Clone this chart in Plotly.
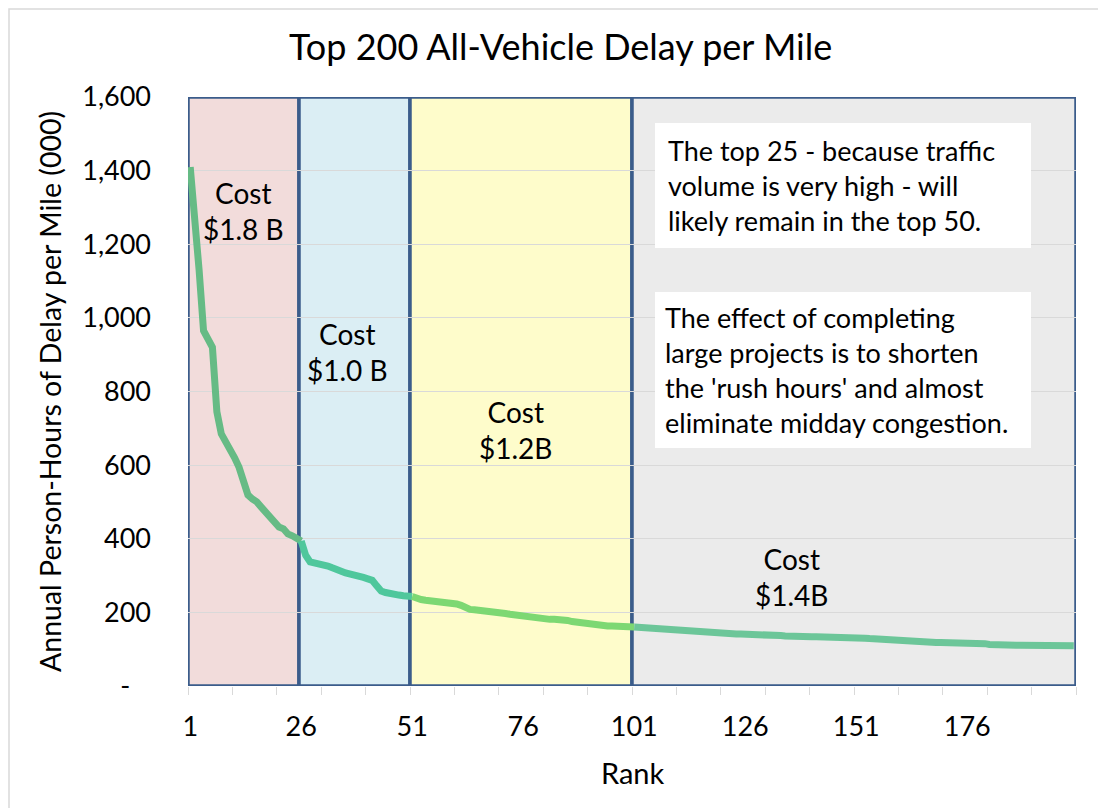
import plotly.graph_objects as go

# ---------------- data ----------------
ranks = list(range(1, 201))
delay = [
    1410, 1290, 1130, 965, 945, 920, 745, 685, 663, 644,
    620, 594, 561, 519, 508, 500, 486, 473, 457, 440,
    432, 427, 413, 408, 402, 394, 355, 337, 335, 334,
    332, 326, 321, 318, 312, 307, 304, 304, 302, 295,
    291, 287, 272, 258, 254, 253, 250, 247, 245, 245,
    243, 237, 235, 233, 232, 231, 229, 227, 226, 225,
    223, 219, 212, 208, 207, 206, 206, 205, 202, 200,
    198, 197, 195, 193, 191, 189, 187, 186, 184, 183,
    181, 181, 181, 181, 180, 178, 175, 173, 172, 170,
    168, 166, 164, 163, 163, 163, 162, 162, 162, 160,
    160, 159, 158, 157, 156, 155, 154, 153, 152, 152,
    151, 150, 149, 148, 147, 146, 145, 144, 144, 143,
    143, 142, 142, 141, 141, 141, 140, 140, 140, 140,
    140, 139, 138, 137, 136, 135, 135, 134, 134, 134,
    134, 134, 134, 134, 134, 134, 134, 134, 133, 133,
    132, 131, 130, 129, 128, 127, 127, 126, 125, 124,
    123, 122, 121, 120, 119, 119, 118, 118, 118, 118,
    118, 118, 118, 118, 118, 118, 118, 117, 116, 115,
    113, 112, 111, 111, 111, 111, 111, 111, 111, 111,
    111, 110, 110, 110, 110, 110, 109, 109, 109, 109,
]

# cost groups: (first rank, last rank, fill, line colour, label)
group_first = [1, 26, 51, 101]
group_last = [25, 50, 100, 200]
group_fill = ["#f2dcdb", "#dbeef4", "#fefccb", "#ebebeb"]
group_line = ["#66bb85", "#4fc79c", "#7dd873", "#6cc699"]
group_label = ["Cost<br>$1.8 B", "Cost<br>$1.0 B", "Cost<br>$1.2B", "Cost<br>$1.4B"]
label_pos_x = [243, 347, 515, 791]      # screen-pixel centres of the cost labels
label_pos_y = [211, 352, 430, 577]

x_tick_vals = [1, 26, 51, 76, 101, 126, 151, 176]
y_tick_vals = [0, 200, 400, 600, 800, 1000, 1200, 1400, 1600]
y_tick_text = ["-\u00a0\u00a0\u00a0", "200", "400", "600", "800", "1,000", "1,200", "1,400", "1,600"]

note1 = "The top 25 - because traffic<br>volume is very high - will<br>likely remain in the top 50."
note2 = ("The effect of completing<br>large projects is to shorten<br>"
         "the 'rush hours' and almost<br>eliminate midday congestion.")

# ---------------- layout geometry ----------------
OFF = 8                       # page body margin
W, H = 1106 - OFF, 808 - OFF
SL, SR, ST, SB = 188, 1076, 97, 686   # plot area in screen pixels
L, R, T, B = SL - OFF, SR - OFF, ST - OFF, SB - OFF
PW, PH = R - L, B - T


def px(xs):
    return (xs - SL) / PW


def py(ys):
    return (SB - ys) / PH


FONT = "Lato, 'Open Sans', sans-serif"
BORDER = "#3b5c8b"

fig = go.Figure()

# line segments, coloured per cost group
for i in range(4):
    a = group_first[i] - 1
    b = min(group_last[i] + 1, 200)
    fig.add_trace(go.Scatter(
        x=ranks[a:b], y=delay[a:b], mode="lines",
        line=dict(color=group_line[i], width=7, shape="linear"),
        showlegend=False, hoverinfo="x+y",
    ))

shapes = []
for i in range(4):
    shapes.append(dict(
        type="rect", xref="x", yref="y",
        x0=group_first[i] - 0.5, x1=group_last[i] + 0.5, y0=0, y1=1600,
        fillcolor=group_fill[i], line=dict(color=BORDER, width=3.5), layer="below",
    ))

# white note boxes
shapes.append(dict(type="rect", xref="paper", yref="paper",
                   x0=px(655), x1=px(1031), y0=py(248), y1=py(123),
                   fillcolor="white", line=dict(width=0), layer="above"))
shapes.append(dict(type="rect", xref="paper", yref="paper",
                   x0=px(655), x1=px(1031), y0=py(448), y1=py(292),
                   fillcolor="white", line=dict(width=0), layer="above"))
# chart area border
shapes.append(dict(type="rect", xref="paper", yref="paper",
                   x0=px(9), x1=px(1120), y0=py(820), y1=py(9),
                   fillcolor="rgba(0,0,0,0)", line=dict(color="#d9d9d9", width=1.5),
                   layer="above"))

annotations = []
for i in range(4):
    annotations.append(dict(
        text=group_label[i], xref="paper", yref="paper",
        x=px(label_pos_x[i]), y=py(label_pos_y[i]),
        xanchor="center", yanchor="middle", showarrow=False, align="center",
        font=dict(family=FONT, size=28, color="black"),
    ))

annotations.append(dict(
    text=note1, xref="paper", yref="paper", x=px(666), y=py(185),
    xanchor="left", yanchor="middle", align="left", showarrow=False,
    font=dict(family=FONT, size=27, color="black"),
))
annotations.append(dict(
    text=note2, xref="paper", yref="paper", x=px(663), y=py(370),
    xanchor="left", yanchor="middle", align="left", showarrow=False,
    font=dict(family=FONT, size=27, color="black"),
))

# title and axis titles
annotations.append(dict(
    text="Top 200 All-Vehicle Delay per Mile", xref="paper", yref="paper",
    x=px(560), y=py(46), xanchor="center", yanchor="middle", showarrow=False,
    font=dict(family=FONT, size=36, color="black"),
))
annotations.append(dict(
    text="Rank", xref="paper", yref="paper",
    x=px(633), y=py(772), xanchor="center", yanchor="middle", showarrow=False,
    font=dict(family=FONT, size=29, color="black"),
))
annotations.append(dict(
    text="Annual Person-Hours of Delay per Mile (000)", xref="paper", yref="paper",
    x=px(50), y=py(392), xanchor="center", yanchor="middle", showarrow=False,
    textangle=-90, font=dict(family=FONT, size=28.5, color="black"),
))

fig.update_layout(
    width=W, height=H,
    margin=dict(l=L, r=W - R, t=T, b=H - B, autoexpand=False),
    paper_bgcolor="white", plot_bgcolor="white",
    showlegend=False,
    shapes=shapes, annotations=annotations,
    font=dict(family=FONT, color="black"),
    xaxis=dict(
        range=[0.5, 200.5], tickmode="array", tickvals=x_tick_vals,
        ticktext=[str(v) for v in x_tick_vals], ticks="", showgrid=False,
        zeroline=False, showline=False, ticklabelstandoff=22,
        tickfont=dict(family=FONT, size=27, color="black"),
        minor=dict(tick0=0.5, dtick=10, ticks="outside", ticklen=8,
                   tickcolor="#d9d9d9", tickwidth=1, showgrid=False),
    ),
    yaxis=dict(
        range=[0, 1600], tickmode="array", tickvals=y_tick_vals, ticktext=y_tick_text,
        showgrid=True, gridcolor="#d9d9d9", gridwidth=1, zeroline=False,
        showline=False, ticks="", ticklabelstandoff=36,
        tickfont=dict(family=FONT, size=27, color="black"),
    ),
)

fig.write_html("out.html")
